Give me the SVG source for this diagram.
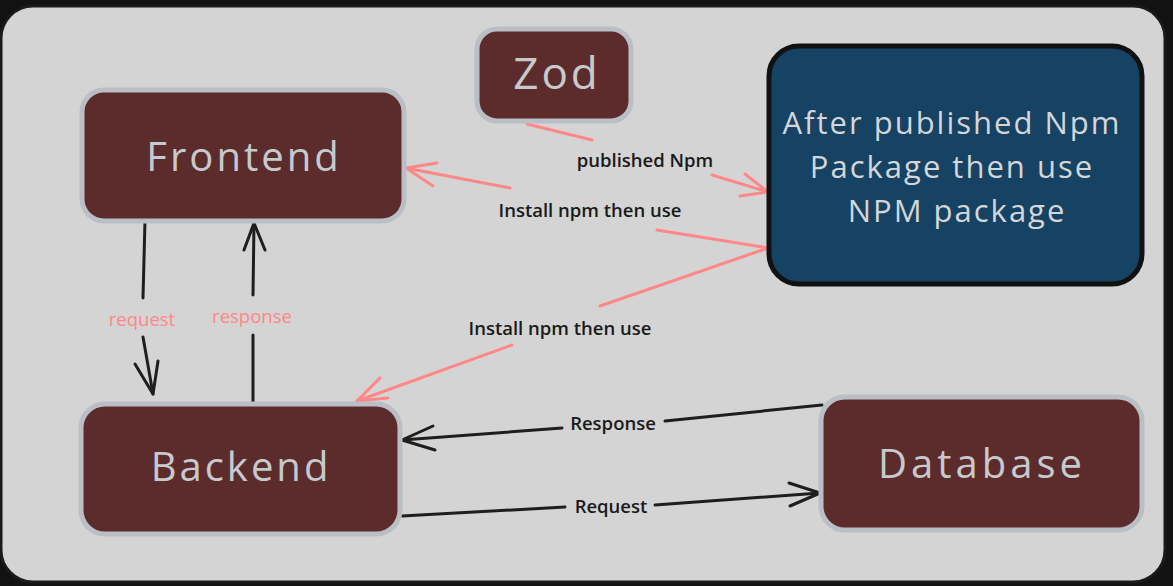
<svg xmlns="http://www.w3.org/2000/svg" width="1173" height="586" viewBox="0 0 1173 586">
<style>
.node rect{fill:#5c2c2d;stroke:#b9bfc4;stroke-width:5}
.ntext{font-family:"Open Sans","Noto Sans",sans-serif;fill:#c6cacd;text-anchor:middle;dominant-baseline:central;letter-spacing:3px}
.lbl{font-family:"Open Sans","Noto Sans",sans-serif;font-weight:600;font-size:18.5px;fill:#1a1a1a;text-anchor:middle;dominant-baseline:central}
.plbl{font-family:"Open Sans","Noto Sans",sans-serif;font-size:18.5px;fill:#ff8787;text-anchor:middle;dominant-baseline:central}
.pk{stroke:#ff8787;stroke-width:3;fill:none;stroke-linecap:round;stroke-linejoin:round}
.bk{stroke:#1e1e1e;stroke-width:3;fill:none;stroke-linecap:round;stroke-linejoin:round}
</style>
<rect x="0" y="0" width="1173" height="586" fill="#121212"/>
<rect x="1" y="6" width="1164" height="576" rx="32" fill="#d4d4d4" stroke="#1a1a1a" stroke-width="3"/>

<g id="connectors">
  <path class="pk" d="M527,124 L592,140"/>
  <path class="pk" d="M712,175 L768,192"/>
  <path class="pk" d="M745,174 L768,192 L740,196"/>
  <text class="lbl" x="645" y="159">published Npm</text>
  <path class="pk" d="M768,248 L657,230"/>
  <path class="pk" d="M510,188 L406,168"/>
  <path class="pk" d="M437,163 L406,168 L433,186"/>
  <text class="lbl" x="590" y="209">Install npm then use</text>
  <path class="pk" d="M768,248 L600,306"/>
  <path class="pk" d="M512,345 L357,401"/>
  <path class="pk" d="M380,378 L357,401 L388,398"/>
  <text class="lbl" x="560" y="327">Install npm then use</text>
  <path class="bk" d="M145,220 L143,298"/>
  <path class="bk" d="M143,337 L153,394"/>
  <path class="bk" d="M135,364 L153,394 L158,361"/>
  <text class="plbl" x="142" y="318">request</text>
  <path class="bk" d="M253,405 L253,335"/>
  <path class="bk" d="M253,295 L254,223"/>
  <path class="bk" d="M244,250 L254,223 L265,250"/>
  <text class="plbl" x="252" y="315">response</text>
  <path class="bk" d="M822,405 L665,421"/>
  <path class="bk" d="M562,428 L402,440"/>
  <path class="bk" d="M433,426 L402,440 L435,450"/>
  <text class="lbl" x="613" y="422">Response</text>
  <path class="bk" d="M402,516 L565,507"/>
  <path class="bk" d="M655,505 L820,493"/>
  <path class="bk" d="M789,483 L820,493 L790,506"/>
  <text class="lbl" x="611" y="505">Request</text>
</g>

<g id="frontend" class="node">
  <rect x="82" y="90" width="322" height="131" rx="22"/>
  <text class="ntext" x="244" y="155" font-size="40">Frontend</text>
</g>
<g id="zod" class="node">
  <rect x="477" y="29" width="154" height="92" rx="20"/>
  <text class="ntext" x="557" y="72" font-size="44">Zod</text>
</g>
<g id="npm-package">
  <rect x="769" y="46" width="373" height="238" rx="30" fill="#164263" stroke="#111" stroke-width="5"/>
  <text class="ntext" font-size="31" style="fill:#d4d6d8;letter-spacing:2px">
    <tspan x="957" y="122">After published Npm</tspan>
    <tspan x="957" y="166">Package then use</tspan>
    <tspan x="957" y="210">NPM package</tspan>
  </text>
</g>
<g id="backend" class="node">
  <rect x="81" y="404" width="319" height="130" rx="24"/>
  <text class="ntext" x="241" y="465" font-size="40">Backend</text>
</g>
<g id="database" class="node">
  <rect x="821" y="397" width="321" height="133" rx="24"/>
  <text class="ntext" x="982" y="462" font-size="40" style="letter-spacing:4px">Database</text>
</g>
</svg>
